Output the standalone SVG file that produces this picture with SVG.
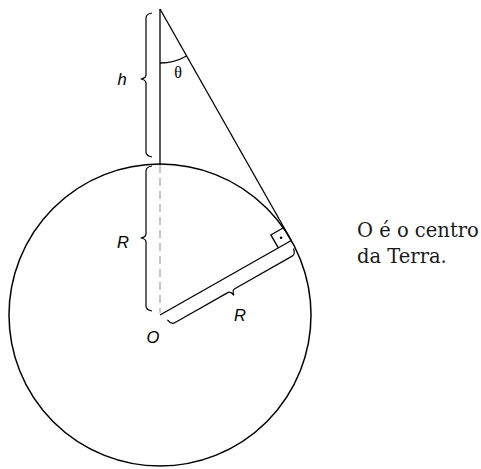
<svg xmlns="http://www.w3.org/2000/svg" width="481" height="469" viewBox="0 0 481 469">
<style>
.ln{fill:none;stroke:#000;stroke-width:1.3}
.br{fill:none;stroke:#000;stroke-width:1.2;stroke-linejoin:round}
.lb{font-family:"Liberation Sans",Arial,sans-serif;font-style:italic;font-size:16.5px;fill:#000;text-anchor:middle}
.th{font-family:"Liberation Serif","Times New Roman",serif;font-size:16px;fill:#000;text-anchor:middle}
.note{font-family:"DejaVu Serif",serif;font-size:19.5px;fill:#1a1a1a}
</style>
<rect width="481" height="469" fill="#fff"/>
<g id="earth">
<circle cx="160" cy="315" r="151" fill="none" stroke="#000" stroke-width="1.5"/>
</g>
<g id="connectors">
<line class="ln" x1="160" y1="9" x2="160" y2="165"/>
<line x1="160" y1="165" x2="160" y2="313" stroke="#aaa" stroke-width="1.3" stroke-dasharray="8,5"/>
<line class="ln" x1="160" y1="9" x2="291.3" y2="240.5"/>
<line class="ln" x1="160" y1="315" x2="291.3" y2="240.5"/>
<path class="ln" d="M160,63 A54,54 0 0 0 186.6,56"/>
</g>
<g id="right-angle">
<path class="ln" d="M278.3,247.9 L270.9,234.9 L283.9,227.5"/>
<circle cx="281.1" cy="237.7" r="1.3" fill="#000"/>
</g>
<g id="brace-h" transform="translate(160,0) rotate(90)">
<path class="br" d="M13,8 Q14,14 18,14 L75,14 Q78,14 79,19 Q80,14 83,14 L152,14 Q156,14 157,8"/>
</g>
<g id="brace-R-vertical" transform="translate(160,0) rotate(90)">
<path class="br" d="M166,8 Q167,14 171,14 L234,14 Q237,14 238,19 Q239,14 242,14 L306,14 Q310,14 311,8"/>
</g>
<g id="brace-R-radius" transform="translate(160,315) rotate(-29.57)">
<path class="br" d="M4,8 Q5,14 9,14 L70,14 Q73,14 74,19 Q75,14 78,14 L144,14 Q148,14 149,8"/>
</g>
<g id="labels">
<text class="lb" x="122" y="85">h</text>
<text class="th" x="178" y="78">θ</text>
<text class="lb" x="123" y="248">R</text>
<text class="lb" x="153" y="343">O</text>
<text class="lb" x="240" y="321">R</text>
</g>
<g id="note">
<text class="note" x="357" y="237">O é o centro</text>
<text class="note" x="357" y="263">da Terra.</text>
</g>
</svg>
